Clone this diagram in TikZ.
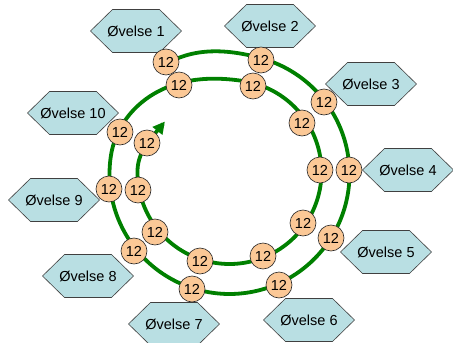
\documentclass[tikz,border=0pt]{standalone}
\usepackage{fontspec}
\setmainfont{Liberation Sans}
\usetikzlibrary{arrows.meta}
\definecolor{hexfill}{RGB}{185,223,227}
\definecolor{numfill}{RGB}{251,200,150}
\definecolor{spiralgreen}{RGB}{0,128,0}
\newcommand\hexlabel[3]{%
  \draw[hexline] (#2) ++(-45.5,0) -- ++(22,-21.5) -- ++(47,0) -- ++(22,21.5) -- ++(-22,21.5) -- ++(-47,0) -- cycle;
  \node[hextext] (#1) at (#2) {#3};}
\begin{document}
\begin{tikzpicture}[x=1pt,y=-1pt,
  declare function={
    ub(\s,\a,\b)=max(0,min(1,(\s-\a)/(\b-\a)));
    bl(\s,\a,\b)=(1-cos(180*ub(\s,\a,\b)))/2;
    rr(\s)=120+7*(1-bl(\s,0,45))-28*bl(\s,308,398)-10*bl(\s,660,697);
    cyy(\s)=174-2*bl(\s,308,398);
  },
  num/.style={circle, draw=black!85, fill=numfill, minimum size=26pt, inner sep=0pt, line width=0.6pt, font=\fontsize{14.5}{17}\selectfont},
  hexline/.style={draw=black!75, fill=hexfill, line width=0.6pt},
  hextext/.style={inner sep=0pt, font=\fontsize{14.5}{17}\selectfont},
  spiralline/.style={draw=spiralgreen, line width=3.8pt, -{Triangle[length=12pt,width=12pt]}}]
\useasboundingbox (0,0) rectangle (453,343);
% hexagons
\hexlabel{h1}{136,31}{Øvelse 1}
\hexlabel{h2}{270,26}{Øvelse 2}
\hexlabel{h3}{371,84}{Øvelse 3}
\hexlabel{h4}{408,170}{Øvelse 4}
\hexlabel{h5}{386,252}{Øvelse 5}
\hexlabel{h6}{309,320}{Øvelse 6}
\hexlabel{h7}{174,324}{Øvelse 7}
\hexlabel{h8}{88,276}{Øvelse 8}
\hexlabel{h9}{54,200}{Øvelse 9}
\hexlabel{h10}{73,113}{Øvelse 10}
% spiral
\draw[spiralline] plot[domain=0:697, samples=240, smooth] ({229.5+rr(\x)*cos(119-\x)}, {cyy(\x)-rr(\x)*sin(119-\x)});
% number nodes
\foreach \i/\p in {1/{166,62}, 2/{261,60}, 3/{324,102}, 4/{349,170}, 5/{331,238},
  6/{279,285}, 7/{192,289}, 8/{134,251}, 9/{109,189}, 10/{120,132},
  11/{179,85}, 12/{253,86}, 13/{302,123}, 14/{320,170}, 15/{303,223},
  16/{263,256}, 17/{200,261}, 18/{155,232}, 19/{138,190}, 20/{147,143}}
  {\node[num] (n\i) at (\p) {12};}
\end{tikzpicture}
\end{document}
